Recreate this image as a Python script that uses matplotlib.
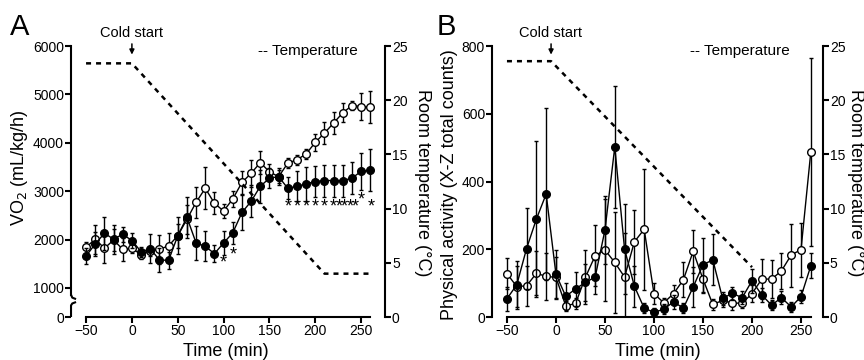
import matplotlib
matplotlib.use("Agg")
import matplotlib.pyplot as plt
import matplotlib.transforms as mtransforms

plt.rcParams['font.family'] = ['Liberation Sans', 'DejaVu Sans']

# time points (min)
time = [-50, -40, -30, -20, -10, 0, 10, 20, 30, 40, 50, 60, 70, 80, 90, 100,
        110, 120, 130, 140, 150, 160, 170, 180, 190, 200, 210, 220, 230, 240, 250, 260]

# panel A: VO2 (mL/kg/h)
vo2_open = [1840, 2010, 1820, 1990, 1800, 1820, 1690, 1760, 1800, 1870, 2080, 2420,
            2770, 3060, 2750, 2590, 2840, 3180, 3370, 3590, 3400, 3300, 3580, 3650,
            3770, 4010, 4200, 4410, 4620, 4770, 4750, 4740]
vo2_open_err = [120, 300, 300, 230, 240, 100, 100, 100, 300, 260, 250, 300,
                320, 430, 230, 140, 170, 230, 275, 240, 170, 130, 100, 100,
                100, 180, 230, 230, 200, 100, 275, 330]
vo2_filled = [1660, 1910, 2130, 2010, 2110, 1980, 1750, 1810, 1580, 1570, 2080, 2460,
              1930, 1860, 1710, 1930, 2140, 2560, 2790, 3100, 3270, 3300, 3060, 3100,
              3150, 3200, 3220, 3220, 3220, 3270, 3410, 3430]
vo2_filled_err = [170, 250, 345, 300, 150, 150, 100, 300, 240, 170, 380, 430,
                  345, 310, 170, 240, 230, 360, 330, 345, 200, 170, 230, 310,
                  345, 330, 330, 330, 330, 330, 380, 435]

# significance marks in panel A (time, VO2 level)
star_t = [100, 110, 170, 180, 190, 200, 210, 220, 226, 232, 238, 244, 250, 261]
star_y = [1520, 1680, 2680, 2680, 2680, 2680, 2680, 2680, 2680, 2680, 2680, 2680, 2820, 2680]

# panel B: physical activity (X-Z total counts)
act_open = [128, 90, 92, 129, 120, 117, 33, 40, 117, 181, 198, 161, 118, 222, 259, 69,
            42, 69, 110, 194, 112, 37, 49, 41, 41, 69, 112, 112, 136, 183, 199, 487]
act_open_err = [46, 60, 60, 65, 70, 60, 15, 15, 80, 90, 150, 150, 130, 95, 178, 30,
                15, 25, 52, 64, 40, 15, 20, 20, 15, 25, 60, 57, 52, 93, 80, 277]
act_filled = [54, 95, 202, 289, 363, 126, 61, 83, 102, 118, 257, 502, 200, 91, 26, 14,
              23, 45, 26, 89, 154, 169, 55, 70, 57, 107, 65, 35, 57, 30, 60, 151]
act_filled_err = [35, 70, 120, 230, 255, 72, 40, 50, 55, 50, 100, 180, 133, 60, 15, 12,
                  15, 20, 15, 60, 80, 75, 20, 20, 20, 35, 20, 15, 20, 15, 20, 37]

# room temperature (deg C)
temp_a_t = [-50, 0, 210, 260]
temp_a = [23.4, 23.4, 4.0, 4.0]
temp_b_t = [-50, -5, 200]
temp_b = [23.6, 23.6, 4.6]

SPINE_W = 1.5
FS_TICK = 10
FS_LABEL = 13


def style_axis(ax, ax2):
    for s in ['top', 'right']:
        ax.spines[s].set_visible(False)
    for s in ['top', 'left', 'bottom']:
        ax2.spines[s].set_visible(False)
    ax.spines['left'].set_linewidth(SPINE_W)
    ax.spines['bottom'].set_linewidth(SPINE_W)
    ax2.spines['right'].set_linewidth(SPINE_W)
    ax.spines['bottom'].set_bounds(-50, 260)
    ax2.spines['right'].set_bounds(0, 25)
    ax.tick_params(direction='out', length=4, width=SPINE_W, labelsize=FS_TICK, pad=1)
    ax2.tick_params(direction='out', length=4, width=SPINE_W, labelsize=FS_TICK, pad=1)
    ax.set_xticks([-50, 0, 50, 100, 150, 200, 250])
    ax2.set_ylim(0, 25)
    ax2.set_yticks([0, 5, 10, 15, 20, 25])


def put_label(axis, text, x, y, rotation):
    axis.set_label_text(text, fontsize=FS_LABEL)
    axis.label.set(va='center', ha='center', rotation=rotation, rotation_mode='default')
    axis.set_label_coords(x, y)


def draw_series(ax, y_open, e_open, y_filled, e_filled):
    kw = dict(fmt='-o', color='black', ms=5.5, mew=1, lw=1, elinewidth=1,
              capsize=1.6, capthick=1)
    ax.errorbar(time, y_open, yerr=e_open, mfc='white', mec='black', zorder=3, **kw)
    ax.errorbar(time, y_filled, yerr=e_filled, mfc='black', mec='black', zorder=4, **kw)


def cold_start(ax, t0, tt):
    tr = mtransforms.blended_transform_factory(ax.transData, ax.transAxes)
    ax.text(tt, 1.048, 'Cold start', transform=tr, ha='center', va='center', fontsize=10.5)
    ax.annotate('', xy=(t0, 0.958), xycoords=tr, xytext=(t0, 1.018), textcoords=tr,
                arrowprops=dict(arrowstyle='-|>', lw=1.1, color='black', mutation_scale=7),
                annotation_clip=False)
    ax.text(0.597, 0.982, '-- Temperature', transform=ax.transAxes, ha='left',
            va='center', fontsize=11)


fig = plt.figure(figsize=(8.64, 3.6), dpi=100)

# ---------------- panel A ----------------
axA = fig.add_axes([0.0822, 0.1194, 0.3634, 0.7528])
axA2 = axA.twinx()
style_axis(axA, axA2)
axA.set_xlim(-66.4, 276)
axA.set_ylim(400, 6000)
axA.set_yticks([400, 1000, 2000, 3000, 4000, 5000, 6000])
axA.set_yticklabels(['0', '1000', '2000', '3000', '4000', '5000', '6000'])
# broken left axis
axA.spines['left'].set_bounds(860, 6000)
trA = mtransforms.blended_transform_factory(axA.transAxes, axA.transData)
axA.plot([0, 0.004, 0.016], [860, 800, 770], color='black', lw=SPINE_W,
         transform=trA, clip_on=False, solid_capstyle='butt')
axA.plot([0.016, 0.004, 0, 0], [710, 680, 640, 400], color='black', lw=SPINE_W,
         transform=trA, clip_on=False, solid_capstyle='butt')
draw_series(axA, vo2_open, vo2_open_err, vo2_filled, vo2_filled_err)
for t, y in zip(star_t, star_y):
    axA.text(t, y, '*', ha='center', va='center', fontsize=13)
axA2.plot(temp_a_t, temp_a, color='black', lw=1.8, ls=(0, (2, 2)))
cold_start(axA, 0, 0)
put_label(axA.xaxis, 'Time (min)', 0.494, -0.129, 0)
put_label(axA.yaxis, 'VO$_2$ (mL/kg/h)', -0.163, 0.55, 90)
put_label(axA2.yaxis, 'Room temperature (°C)', 1.118, 0.497, 270)
fig.text(0.012, 0.965, 'A', fontsize=21, va='top', ha='left')

# ---------------- panel B ----------------
axB = fig.add_axes([0.5694, 0.1194, 0.3831, 0.7528])
axB2 = axB.twinx()
style_axis(axB, axB2)
axB.set_xlim(-65.3, 272.4)
axB.set_ylim(0, 800)
axB.set_yticks([0, 200, 400, 600, 800])
axB.spines['left'].set_bounds(0, 800)
draw_series(axB, act_open, act_open_err, act_filled, act_filled_err)
axB2.plot(temp_b_t, temp_b, color='black', lw=1.8, ls=(0, (2, 2)))
cold_start(axB, -5, -6)
put_label(axB.xaxis, 'Time (min)', 0.5, -0.129, 0)
put_label(axB.yaxis, 'Physical activity (X-Z total counts)', -0.127, 0.49, 90)
put_label(axB2.yaxis, 'Room temperature (°C)', 1.097, 0.497, 270)
fig.text(0.505, 0.965, 'B', fontsize=21, va='top', ha='left')

fig.savefig('out.png', dpi=100)
